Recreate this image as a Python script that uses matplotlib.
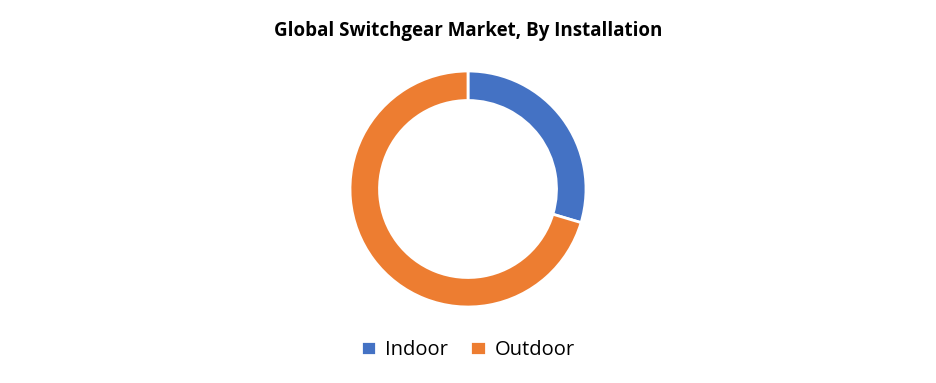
import matplotlib.pyplot as plt

# Global switchgear market share by installation type
labels = ['Indoor', 'Outdoor']
shares = [29.6, 70.4]
colors = ['#4472C4', '#ED7D31']

fig = plt.figure(figsize=(9.36, 3.83), dpi=100)

# donut axes placed so the ring sits where it is in the reference
ax = fig.add_axes([350 / 936, (383 - 307) / 383, 236 / 936, 236 / 383])
wedges, _ = ax.pie(shares, colors=colors, startangle=90, counterclock=False,
                   radius=1.0, wedgeprops=dict(width=0.25, edgecolor='white', linewidth=2))
ax.set_xlim(-1.0, 1.0)
ax.set_ylim(-1.0, 1.0)
ax.set_aspect('equal')
ax.axis('off')

fig.text(0.5, 1 - 31 / 383, 'Global Switchgear Market, By Installation',
         ha='center', va='center', fontsize=13.5, fontweight='bold', family='Open Sans')

fig.legend(wedges, labels, loc='center', bbox_to_anchor=(0.5, 1 - 350 / 383),
           ncol=2, frameon=False, handlelength=0.75, handleheight=0.75,
           handletextpad=0.45, columnspacing=1.1,
           prop={'family': 'Open Sans', 'size': 14.5})

fig.savefig('out.png', dpi=100)
